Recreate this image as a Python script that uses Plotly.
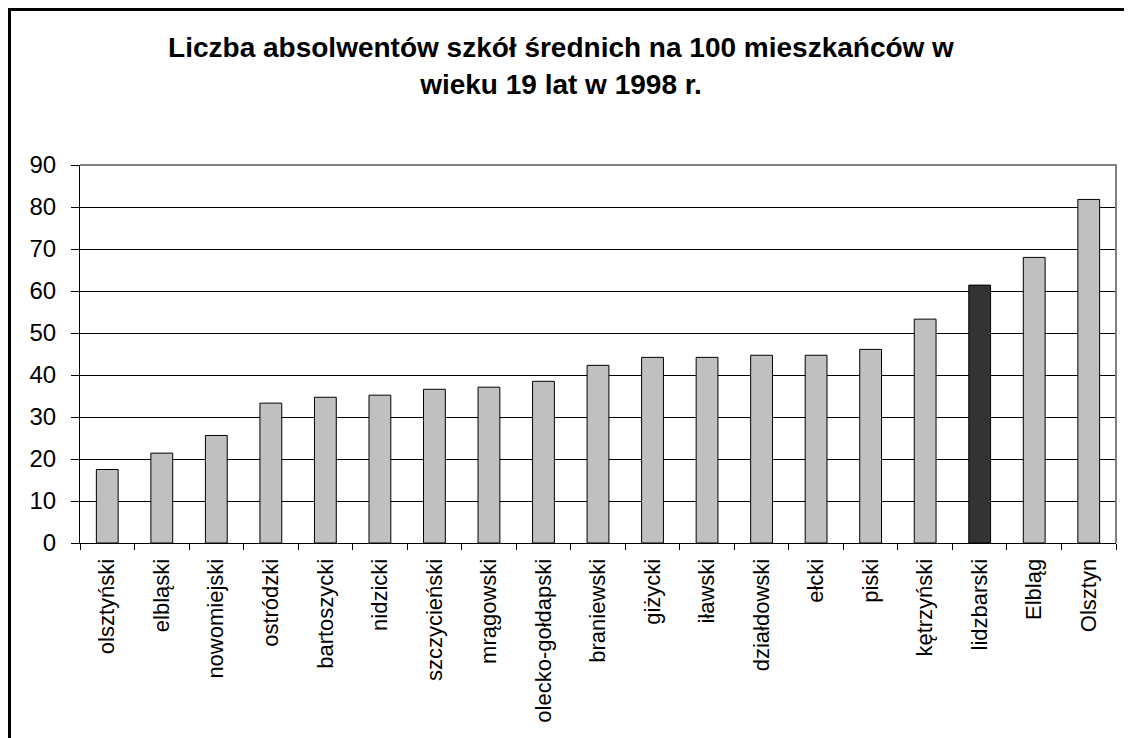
import plotly.graph_objects as go

# powiaty / miasta, 1998
powiaty = ['olsztyński', 'elbląski', 'nowomiejski', 'ostródzki', 'bartoszycki',
           'nidzicki', 'szczycieński', 'mrągowski', 'olecko-gołdapski', 'braniewski',
           'giżycki', 'iławski', 'działdowski', 'ełcki', 'piski', 'kętrzyński',
           'lidzbarski', 'Elbląg', 'Olsztyn']
absolwenci = [17.5, 21.4, 25.6, 33.3, 34.7, 35.2, 36.6, 37.1, 38.5, 42.3,
              44.2, 44.2, 44.7, 44.7, 46.1, 53.3, 61.4, 68.0, 81.8]
wyrozniony = 'lidzbarski'
y_ticks = [0, 10, 20, 30, 40, 50, 60, 70, 80, 90]

font_name = 'Liberation Sans, Arial, sans-serif'
bar_colors = ['#333333' if p == wyrozniony else '#C0C0C0' for p in powiaty]

# strona ma 8 px marginesu, więc wykres jest mniejszy o 8 px
W, H = 1124, 730
ml, mr, mt, mb = 72, 16, 157, 195
pw, ph = W - ml - mr, H - mt - mb

fig = go.Figure()
fig.add_trace(go.Bar(x=powiaty,
                     y=absolwenci,
                     marker=dict(color=bar_colors, line=dict(color='black', width=1)),
                     showlegend=False))

fig.update_layout(
    width=W, height=H,
    margin=dict(l=ml, r=mr, t=mt, b=mb),
    paper_bgcolor='white', plot_bgcolor='white',
    bargap=0.6,
    font=dict(family=font_name, size=22, color='black'),
    title=dict(text='<b>Liczba absolwentów szkół średnich na 100 mieszkańców w<br>wieku 19 lat w 1998 r.</b>',
               x=0.492, xanchor='center', y=0.9325, yanchor='middle',
               font=dict(family=font_name, size=28, color='black')),
)

fig.update_xaxes(tickangle=-90, tickson='boundaries', ticks='outside', ticklen=6,
                 tickcolor='black', showline=True, linecolor='black', linewidth=1,
                 showgrid=False, tickfont=dict(size=22), ticklabelstandoff=6)
fig.update_yaxes(range=[0, 90], tickvals=y_ticks, ticks='outside', ticklen=8,
                 tickcolor='black', showline=True, linecolor='black', linewidth=1,
                 showgrid=True, gridcolor='black', gridwidth=1, zeroline=False,
                 tickfont=dict(size=24), ticklabelstandoff=10)

# szara ramka obszaru wykresu (góra i prawa strona)
fig.add_shape(type='path', xref='paper', yref='paper', path='M 0,1 L 1,1 L 1,0',
              line=dict(color='#808080', width=2))
# czarna ramka całego wykresu (lewa i górna krawędź)
x_left = -(ml - 1.5) / pw
y_top = 1 + (mt - 1.5) / ph
fig.add_shape(type='path', xref='paper', yref='paper',
              path=f'M {x_left},{-mb / ph} L {x_left},{y_top} L {1 + (mr - 2) / pw},{y_top}',
              line=dict(color='black', width=3))

fig.write_html('out.html', post_script="document.body.style.overflow='hidden';")
